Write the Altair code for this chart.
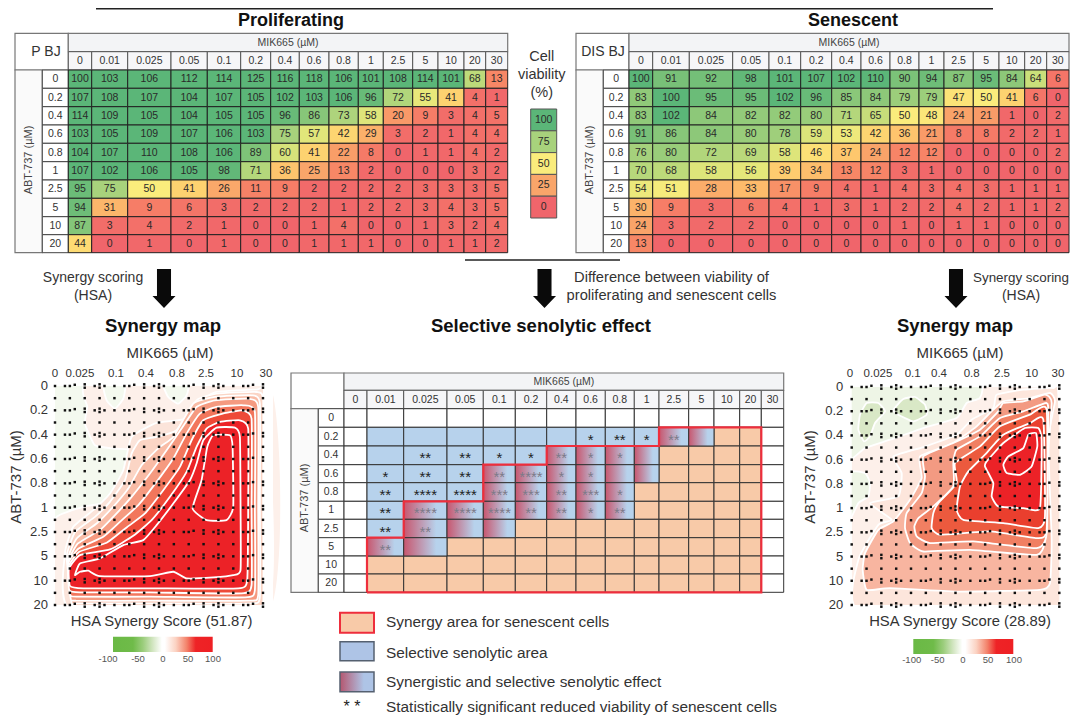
import altair as alt

FONT = "Liberation Sans"
MIK = ["0","0.01","0.025","0.05","0.1","0.2","0.4","0.6","0.8","1","2.5","5","10","20","30"]
ABT = ["0","0.2","0.4","0.6","0.8","1","2.5","5","10","20"]

PROLIF = [
 [100,103,106,112,114,125,116,118,106,101,108,114,101,68,13],
 [107,108,107,104,107,105,102,103,106,96,72,55,41,4,1],
 [114,109,105,104,105,105,96,86,73,58,20,9,3,4,5],
 [103,105,109,107,106,103,75,57,42,29,3,2,1,4,4],
 [104,107,110,108,106,89,60,41,22,8,0,1,1,4,2],
 [107,102,106,105,98,71,36,25,13,2,0,0,0,3,2],
 [95,75,50,41,26,11,9,2,2,2,2,3,3,3,5],
 [94,31,9,6,3,2,2,2,1,2,2,3,4,3,5],
 [87,3,4,2,1,0,0,1,4,0,0,1,3,2,4],
 [44,0,1,0,1,0,0,1,1,1,0,0,1,1,2],
]
SENES = [
 [100,91,92,98,101,107,102,110,90,94,87,95,84,64,6],
 [83,100,95,95,102,96,85,84,79,79,47,50,41,6,0],
 [83,102,84,82,82,80,71,65,50,48,24,21,1,0,2],
 [91,86,84,80,78,59,53,42,36,21,8,8,2,2,1],
 [76,80,72,69,58,46,37,24,12,12,0,0,0,0,2],
 [70,68,58,56,39,34,13,12,3,1,0,0,0,0,0],
 [54,51,28,33,17,9,4,1,4,3,4,3,1,1,1],
 [30,9,3,6,4,1,3,1,2,2,4,2,1,1,2],
 [24,3,2,2,0,0,0,0,1,0,1,1,0,0,0],
 [13,0,0,0,0,0,0,0,0,0,0,0,0,0,0],
]
# w = white, b = selective, o = synergy, g = synergy + selective
CENTER_TYPE = [
 "wwwwwwwwwwwwwww",
 "wbbbbbbbbbggoow",
 "wbbbbbggggoooow",
 "wbbbggggggoooow",
 "wbbbgggggooooow",
 "wbgggggggooooow",
 "wbgggooooooooow",
 "wggooooooooooow",
 "wooooooooooooow",
 "wooooooooooooow",
]
CENTER_STARS = [
 [0]*15,
 [0,0,0,0,0,0,0,1,2,1,2,0,0,0,0],
 [0,0,2,2,1,1,2,1,1,0,0,0,0,0,0],
 [0,1,2,2,2,4,1,1,0,0,0,0,0,0,0],
 [0,2,4,4,3,3,2,3,1,0,0,0,0,0,0],
 [0,2,4,4,4,2,2,1,2,0,0,0,0,0,0],
 [0,2,2,0,0,0,0,0,0,0,0,0,0,0,0],
 [0,2,0,0,0,0,0,0,0,0,0,0,0,0,0],
 [0]*15,
 [0]*15,
]
RED_OUTLINE = [(1,10),(1,7),(2,7),(2,5),(4,5),(4,3),(6,3),(6,2),(10,2),(10,1),(14,1),(14,10),(1,10)]
VIABILITY_LEGEND = [100,75,50,25,0]
HEAT_DOMAIN = [0,25,50,75,100]
HEAT_RANGE = ["#f0656b","#f9a56a","#faec7c","#a8d27c","#5bb678"]

MAP_TOP_LABELS = ["0","0.025","0.1","0.4","0.8","2.5","10","30"]
BAR_LABELS = ["-100","-50","0","50","100"]
LEGEND_TEXT = ["Synergy area for senescent cells","Selective senolytic area",
               "Synergistic and selective senolytic effect",
               "Statistically significant reduced viability of senescent cells"]

# layout
PX = [68.3,91.7,127.7,171,207.3,240.7,270.7,299.3,329,358.3,383.3,412.7,438,464,485.7,507.7]
SX = [629,652.7,689.3,732.7,769,800.7,831.7,861,890,919,944,973.3,999,1024.7,1046.7,1069]
CX = [344,367,403.7,447,483.3,515.3,546.7,576,605.3,634.3,659,688.7,714,739.7,761.3,783.7]
TY = [70,88.3,106.7,125,143.3,161.7,180,198.3,216.7,234.7,252.7]
CY = [408.7,427.3,446,464.7,482.7,501.3,519.3,537.7,556,574,592.3]

# contour outlines: (fill, [(x, y) ...]) in reading units
L_ORIGIN = (165,137,44.6,73.1)
R_ORIGIN = (185,142,44.5,72.6)
LEFT_CONTOURS = [
 ("#fdf0ea",[(268,130),(262,200),(255,250),(285,315),(345,325),(395,330),(385,390),(340,480),(250,500),(170,530),(150,600),(150,810),(810,810),(810,130)]),
 ("#f4f9ef",[(310,130),(320,180),(345,205),(370,175),(375,130)]),
 ("#f4f9ef",[(490,130),(505,170),(535,190),(560,165),(565,130)]),
 ("#fbe4da",[(215,810),(195,640),(220,560),(280,510),(330,460),(370,390),(395,290),(470,248),(560,235),(605,180),(650,155),(770,148),(800,170),(800,810)]),
 ("#fbd5c5",[(220,810),(200,650),(226,575),(285,530),(330,485),(375,420),(395,340),(420,300),(470,290),(530,270),(590,180),(650,160),(770,155),(790,180),(790,500),(790,790),(750,805),(450,805),(235,805)]),
 ("#f9bca6",[(215,790),(203,660),(230,595),(290,550),(335,505),(385,445),(425,375),(480,320),(520,290),(580,190),(645,170),(755,165),(780,190),(780,500),(780,772),(748,790),(450,790),(230,790)]),
 ("#f59a80",[(212,775),(205,665),(234,610),(300,570),(345,525),(395,470),(450,400),(500,330),(545,265),(590,200),(645,180),(745,175),(775,200),(775,500),(775,765),(745,782),(450,782),(228,782)]),
 ("#f2765c",[(210,762),(205,670),(236,625),(310,590),(360,545),(415,495),(470,425),(520,355),(560,280),(600,220),(650,200),(730,195),(765,215),(765,500),(765,750),(735,772),(450,770),(230,770)]),
 ("#ee4a38",[(208,750),(205,680),(238,635),(320,608),(380,562),(435,520),(490,450),(540,380),(575,300),(610,240),(660,222),(725,210),(755,235),(755,500),(755,735),(725,760),(450,757),(240,757)]),
 ("#ec2227",[(210,738),(207,685),(240,645),(330,628),(400,587),(455,540),(510,470),(560,395),(590,320),(620,265),(660,245),(720,240),(745,265),(745,500),(742,720),(715,745),(450,745),(250,745)]),
 ("#ec2227",[(225,705),(240,670),(300,655),(370,615),(430,600),(470,555),(520,490),(570,420),(590,370),(610,300),(650,262),(705,262),(720,290),(722,500),(722,690),(700,705),(640,712),(560,715),(520,695),(450,708),(300,708),(265,692),(240,695)]),
 ("#ec2227",[(640,285),(690,285),(698,320),(700,500),(680,540),(620,540),(578,505),(605,420),(622,320)]),
]
RIGHT_CONTOURS = [
 ("#eef5e6",[(170,130),(560,130),(570,175),(530,190),(500,235),(400,265),(300,300),(225,325),(170,360)]),
 ("#eef5e6",[(170,400),(225,400),(240,430),(235,470),(205,490),(170,555)]),
 ("#d9e8c6",[(210,225),(230,190),(265,190),(285,215),(255,250),(240,290),(222,305),(205,270)]),
 ("#d9e8c6",[(310,210),(340,178),(375,172),(405,195),(410,225),(370,245),(325,225)]),
 ("#fde6dc",[(240,490),(325,470),(335,400),(310,350),(400,322),(500,285),(545,240),(610,205),(620,165),(700,150),(790,145),(805,165),(815,810),(208,810),(205,660),(265,555),(305,540)]),
 ("#f8b5a0",[(230,750),(218,690),(225,640),(265,570),(310,545),(360,480),(395,415),(390,350),(490,310),(560,260),(610,210),(640,185),(720,175),(780,160),(795,185),(775,300),(785,600),(780,730),(750,750),(500,755),(300,745)]),
 ("#f39a82",[(400,635),(360,610),(345,565),(350,520),(395,460),(405,410),(400,350),(490,310),(570,270),(625,215),(640,190),(700,185),(765,165),(785,190),(770,400),(765,600),(740,645),(540,630)]),
 ("#f17f62",[(420,610),(380,590),(373,560),(385,535),(430,500),(490,440),(490,370),(500,330),(570,290),(630,235),(700,215),(770,190),(775,230),(770,580),(740,625),(550,605)]),
 ("#ec5a3e",[(450,585),(425,565),(430,520),(445,490),(500,430),(495,370),(570,320),(630,260),(720,225),(770,210),(770,570),(740,595),(600,575)]),
 ("#ea3f2e",[(520,540),(500,510),(510,440),(535,395),(585,345),(640,285),(720,250),(760,240),(765,530),(745,565),(640,550)]),
 ("#ec2227",[(625,500),(605,470),(610,430),(585,380),(590,365),(640,310),(705,265),(745,265),(755,300),(750,505),(700,505)]),
 ("#ec2227",[(650,400),(640,375),(655,350),(700,325),(715,285),(738,280),(742,320),(725,380),(690,405)]),
]
FULL_ROW_DOTS = [(0,0),(.67,0),(1,0),(1.33,-.05),(2,-.07),(2,.07),(2.67,0),(3,-.07),(3,.07),(3.33,0)]
DOT_PERIOD_COLS = [0,4,8,12]

ONE = alt.Data(values=[{"a":1}])
layers = []

def P(v):
    return v - 8

def scale_from(edges):
    return alt.Scale(domain=list(range(len(edges))), range=[P(e) for e in edges], nice=False, zero=False)

def txt(s, x, y, size=14, color="#333333", bold=False, align="center", angle=None, dy=0):
    kw = dict(font=FONT, fontSize=size, color=color, align=align, baseline="middle", dy=dy)
    if bold: kw["fontWeight"] = "bold"
    if angle is not None: kw["angle"] = angle
    layers.append(alt.Chart(ONE).mark_text(**kw).encode(x=alt.value(P(x)), y=alt.value(P(y)), text=alt.value(s)))

def box(x1, y1, x2, y2, fill="white", stroke="#555555", sw=1.0):
    layers.append(alt.Chart(ONE).mark_rect(fill=fill, stroke=stroke, strokeWidth=sw).encode(
        x=alt.value(P(x1)), x2=alt.value(P(x2)), y=alt.value(P(y1)), y2=alt.value(P(y2))))

def mask(x1, y1, x2, y2):
    layers.append(alt.Chart(ONE).mark_rect(fill="white").encode(
        x=alt.value(P(x1)), x2=alt.value(P(x2)), y=alt.value(P(y1)), y2=alt.value(P(y2))))

def hline(x1, x2, y, sw=1.5, color="#222222"):
    layers.append(alt.Chart(ONE).mark_rule(color=color, strokeWidth=sw).encode(
        x=alt.value(P(x1)), x2=alt.value(P(x2)), y=alt.value(P(y))))

def shell(xe, ye, outer, rowdiv, top, mid, title_y, corner=None, corner_x=None, rot_y=None, rot_x=None):
    bottom = ye[-1]; right = xe[-1]; left0 = xe[0]; y0 = ye[0]
    box(outer, top, left0, y0, "#ffffff", "#777777", 1.2)
    box(left0, top, right, mid, "#f3f4f6", "#777777", 1.2)
    box(outer, y0, rowdiv, bottom, "#fafafa", "#777777", 1.2)
    sx, sy = scale_from(xe), scale_from(ye)
    cols = [{"c":i,"c2":i+1,"m":i+.5,"t":t} for i,t in enumerate(MIK)]
    layers.append(alt.Chart(alt.Data(values=cols)).mark_rect(fill="#f6f6f8", stroke="#555555", strokeWidth=1).encode(
        x=alt.X("c:Q", scale=sx, axis=None), x2="c2:Q", y=alt.value(P(mid)), y2=alt.value(P(y0))))
    layers.append(alt.Chart(alt.Data(values=cols)).mark_text(font=FONT, fontSize=10.5, color="#333333", baseline="middle").encode(
        x=alt.X("m:Q", scale=sx, axis=None), y=alt.value(P((mid+y0)/2)), text="t:N"))
    rows = [{"r":i,"r2":i+1,"m":i+.5,"t":t} for i,t in enumerate(ABT)]
    layers.append(alt.Chart(alt.Data(values=rows)).mark_rect(fill="white", stroke="#444444", strokeWidth=1).encode(
        y=alt.Y("r:Q", scale=sy, axis=None), y2="r2:Q", x=alt.value(P(rowdiv)), x2=alt.value(P(left0))))
    layers.append(alt.Chart(alt.Data(values=rows)).mark_text(font=FONT, fontSize=10.5, color="#333333", baseline="middle").encode(
        y=alt.Y("m:Q", scale=sy, axis=None), x=alt.value(P((rowdiv+left0)/2)), text="t:N"))
    txt("MIK665 (µM)", (left0+right)/2, title_y, 10.5, "#444444")
    txt("ABT-737 (µM)", rot_x, rot_y, 11, "#444444", angle=270)
    if corner:
        txt(corner, corner_x, (top+y0)/2, 14, "#333333")

def heat_table(values, xe, ye):
    sx, sy = scale_from(xe), scale_from(ye)
    rows = [{"c":c,"c2":c+1,"r":r,"r2":r+1,"cm":c+.5,"rm":r+.5,"v":v}
            for r,row in enumerate(values) for c,v in enumerate(row)]
    d = alt.Data(values=rows)
    layers.append(alt.Chart(d).mark_rect(stroke="#222222", strokeWidth=1).encode(
        x=alt.X("c:Q", scale=sx, axis=None), x2="c2:Q",
        y=alt.Y("r:Q", scale=sy, axis=None), y2="r2:Q",
        color=alt.Color("v:Q", scale=alt.Scale(domain=HEAT_DOMAIN, range=HEAT_RANGE, clamp=True), legend=None)))
    layers.append(alt.Chart(d).mark_text(font=FONT, fontSize=10.5, color="#2a2a2a", baseline="middle").encode(
        x=alt.X("cm:Q", scale=sx, axis=None), y=alt.Y("rm:Q", scale=sy, axis=None), text="v:Q"))

# ---- top rules and titles
hline(96, 993, 8.8, 1.6)
txt("Proliferating", 291, 20.5, 18, "#111111", True)
txt("Senescent", 853, 20.5, 18, "#111111", True)

# ---- tables
shell(PX, TY, 15, 42.3, 33.3, 51.7, 42.5, "P BJ", 46, 160, 29)
heat_table(PROLIF, PX, TY)
shell(SX, TY, 576, 603.3, 33.3, 51.7, 42.5, "DIS BJ", 603, 160, 590)
heat_table(SENES, SX, TY)

# ---- viability legend
txt("Cell", 541.7, 57, 14.5); txt("viability", 541.7, 75, 14.5); txt("(%)", 541.7, 93, 14.5)
leg_y = [109,130.8,152.6,174.4,196.2,218]
syl = scale_from(leg_y)
leg = [{"r":i,"r2":i+1,"m":i+.5,"v":v} for i,v in enumerate(VIABILITY_LEGEND)]
layers.append(alt.Chart(alt.Data(values=leg)).mark_rect(stroke="#555555", strokeWidth=1).encode(
    y=alt.Y("r:Q", scale=syl, axis=None), y2="r2:Q", x=alt.value(P(530.7)), x2=alt.value(P(556.7)),
    color=alt.Color("v:Q", scale=alt.Scale(domain=HEAT_DOMAIN, range=HEAT_RANGE, clamp=True), legend=None)))
layers.append(alt.Chart(alt.Data(values=leg)).mark_text(font=FONT, fontSize=10.5, color="#2a2a2a", baseline="middle").encode(
    y=alt.Y("m:Q", scale=syl, axis=None), x=alt.value(P(543.7)), text="v:Q"))

# ---- arrows + captions
ARROW = "M-.36,-1L.36,-1L.36,.385L.59,.385L0,1L-.59,.385L-.36,.385Z"
for ax in (164, 544.5, 956):
    layers.append(alt.Chart(ONE).mark_point(shape=ARROW, filled=True, fill="#0a0a0a", stroke=None, size=1521, opacity=1).encode(
        x=alt.value(P(ax)), y=alt.value(P(288.5))))
hline(465, 620, 260, 1.5)
txt("Synergy scoring", 93, 277.7, 14); txt("(HSA)", 93, 296, 14)
txt("Synergy scoring", 1021, 277.7, 13.4); txt("(HSA)", 1021, 296, 14)
txt("Difference between viability of", 671.5, 277.7, 14.7)
txt("proliferating and senescent cells", 671.5, 295.5, 14.7)
txt("Synergy map", 163, 325.7, 18.5, "#111111", True)
txt("Synergy map", 955, 325.7, 18.5, "#111111", True)
txt("Selective senolytic effect", 541, 325.7, 18.5, "#111111", True)

# ---- synergy maps
BAR_STOPS = [(0,"#6ab945"),(.2,"#6fbb49"),(.3,"#9bcd7c"),(.4,"#d3e6c2"),(.49,"#ffffff"),(.52,"#ffffff"),(.63,"#fbd2c2"),(.74,"#f3826a"),(.83,"#ee2326"),(1,"#ee2024")]

def synergy_map(contours, origin, base_fill, x0, x1, y0, y1, top_x, ylab_x, ytitle_x, mid, score, score_x, bx0, bx1, by0, by1, blab_y, blab_x):
    xs = alt.Scale(domain=[0,14], range=[P(x0),P(x1)], nice=False, zero=False)
    ys = alt.Scale(domain=[0,9], range=[P(y0),P(y1)], nice=False, zero=False)
    ox, oy, ux, uy = origin
    base = [{"c":0,"c2":14,"r":0,"r2":9}]
    layers.append(alt.Chart(alt.Data(values=base)).mark_rect(fill=base_fill).encode(
        x=alt.X("c:Q", scale=xs, axis=None), x2="c2:Q", y=alt.Y("r:Q", scale=ys, axis=None), y2="r2:Q"))
    for fill, pts in contours:
        rows = [{"x":round((a-ox)/ux,3), "y":round((b-oy)/uy,3), "i":i} for i,(a,b) in enumerate(pts)]
        layers.append(alt.Chart(alt.Data(values=rows)).mark_line(
            interpolate="cardinal-closed", tension=0.55, fill=fill, stroke="#ffffff", strokeWidth=1.8).encode(
            x=alt.X("x:Q", scale=xs, axis=None), y=alt.Y("y:Q", scale=ys, axis=None), order="i:Q"))
    mask(x0-25, y0-25, x0, y1+25); mask(x1, y0-25, x1+10, y1+25)
    mask(x0-25, y0-25, x1+10, y0); mask(x0-25, y1, x1+10, y1+25)
    dots = []
    for r in range(10):
        for base_col in DOT_PERIOD_COLS:
            for dc, dr in FULL_ROW_DOTS:
                if base_col + dc <= 14:
                    dots.append({"c":base_col+dc,"r":r+dr})
    for r in range(9):
        for c in range(15):
            dots.append({"c":c,"r":r+.5})
    layers.append(alt.Chart(alt.Data(values=dots)).mark_square(size=6, color="#111111", opacity=1).encode(
        x=alt.X("c:Q", scale=xs, axis=None), y=alt.Y("r:Q", scale=ys, axis=None)))
    sl = scale_from(top_x)
    tl = [{"i":i,"t":t} for i,t in enumerate(MAP_TOP_LABELS)]
    layers.append(alt.Chart(alt.Data(values=tl)).mark_text(font=FONT, fontSize=11.5, color="#333333", baseline="middle").encode(
        x=alt.X("i:Q", scale=sl, axis=None), y=alt.value(P(374)), text="t:N"))
    yl = [{"r":i,"t":t} for i,t in enumerate(ABT)]
    layers.append(alt.Chart(alt.Data(values=yl)).mark_text(font=FONT, fontSize=13, color="#333333", baseline="middle", align="right").encode(
        y=alt.Y("r:Q", scale=ys, axis=None), x=alt.value(P(ylab_x)), text="t:N"))
    txt("MIK665 (µM)", mid, 353, 15)
    txt("ABT-737 (µM)", ytitle_x, 477, 15, angle=270)
    txt(score, score_x, 622, 14.8)
    layers.append(alt.Chart(ONE).mark_rect(fill=alt.Gradient(gradient="linear", x1=0, x2=1, y1=0, y2=0,
        stops=[alt.GradientStop(offset=o, color=c) for o,c in BAR_STOPS])).encode(
        x=alt.value(P(bx0)), x2=alt.value(P(bx1)), y=alt.value(P(by0)), y2=alt.value(P(by1))))
    sb = scale_from(blab_x)
    bl = [{"i":i,"t":t} for i,t in enumerate(BAR_LABELS)]
    layers.append(alt.Chart(alt.Data(values=bl)).mark_text(font=FONT, fontSize=9.5, color="#555555", baseline="middle").encode(
        x=alt.X("i:Q", scale=sb, axis=None), y=alt.value(P(blab_y)), text="t:N"))

synergy_map(LEFT_CONTOURS, L_ORIGIN, "#f4f9ef", 55, 263, 386, 605, [55,80,116,146,177,206,237,266], 48, 16, 170,
            "HSA Synergy Score (51.87)", 161.5, 113, 212.7, 636.7, 652, 659, [108,138,163,188,213])
synergy_map(RIGHT_CONTOURS, R_ORIGIN, "#fdf0ea", 851.7, 1059.3, 387, 605, [850,878,912.7,939,971.7,1002,1031.7,1058], 843.3, 810, 960,
            "HSA Synergy Score (28.89)", 960, 913.3, 1013.3, 639, 654, 660, [911.7,937.7,963,988,1014])

# ---- centre table
shell(CX, CY, 291, 318.3, 373, 390.3, 381.5, None, None, 498, 305)
scx, scy = scale_from(CX), scale_from(CY)
BLUE, ORANGE = "#b7d2ec", "#f8caa8"
GRAD = alt.Gradient(gradient="linear", x1=0, x2=1, y1=0, y2=0, stops=[
    alt.GradientStop(offset=0, color="#c8566e"), alt.GradientStop(offset=.75, color=BLUE), alt.GradientStop(offset=1, color=BLUE)])
cells = [{"c":c,"c2":c+1,"r":r,"r2":r+1,"k":k} for r,row in enumerate(CENTER_TYPE) for c,k in enumerate(row)]
layers.append(alt.Chart(alt.Data(values=[d for d in cells if d["k"]!="g"])).mark_rect(stroke="#333333", strokeWidth=1).encode(
    x=alt.X("c:Q", scale=scx, axis=None), x2="c2:Q", y=alt.Y("r:Q", scale=scy, axis=None), y2="r2:Q",
    color=alt.Color("k:N", scale=alt.Scale(domain=["w","b","o"], range=["#ffffff",BLUE,ORANGE]), legend=None)))
layers.append(alt.Chart(alt.Data(values=[d for d in cells if d["k"]=="g"])).mark_rect(fill=GRAD, stroke="#333333", strokeWidth=1).encode(
    x=alt.X("c:Q", scale=scx, axis=None), x2="c2:Q", y=alt.Y("r:Q", scale=scy, axis=None), y2="r2:Q"))
stars = [{"cm":c+.5,"rm":r+.5,"s":"*"*n,"k":CENTER_TYPE[r][c]} for r,row in enumerate(CENTER_STARS) for c,n in enumerate(row) if n]
for kind, col in (("b","#222222"),("g","#7d7a88")):
    layers.append(alt.Chart(alt.Data(values=[s for s in stars if s["k"]==kind])).mark_text(
        font=FONT, fontSize=15, color=col, baseline="middle", dy=3).encode(
        x=alt.X("cm:Q", scale=scx, axis=None), y=alt.Y("rm:Q", scale=scy, axis=None), text="s:N"))
red = [{"x":a,"y":b,"i":i} for i,(a,b) in enumerate(RED_OUTLINE)]
layers.append(alt.Chart(alt.Data(values=red)).mark_line(color="#ee2e3c", strokeWidth=2.2).encode(
    x=alt.X("x:Q", scale=scx, axis=None), y=alt.Y("y:Q", scale=scy, axis=None), order="i:Q"))

# ---- bottom legend
box(340, 612.7, 374, 632.7, ORANGE, "#ee2e3c", 2)
box(340, 641.7, 374, 660.7, "#aec4e6", "#556070", 1.5)
layers.append(alt.Chart(ONE).mark_rect(fill=alt.Gradient(gradient="linear", x1=0, x2=1, y1=0, y2=0, stops=[
    alt.GradientStop(offset=0, color="#b5566f"), alt.GradientStop(offset=.7, color="#aec4e6"), alt.GradientStop(offset=1, color="#aec4e6")]),
    stroke="#556070", strokeWidth=1.5).encode(x=alt.value(P(340)), x2=alt.value(P(374)), y=alt.value(P(672)), y2=alt.value(P(691.7))))
for t, yy in zip(LEGEND_TEXT, (621.7, 652.7, 682, 707)):
    txt(t, 386, yy, 15.4, "#333333", align="left")
txt("* *", 352, 706.5, 16, "#222222")

chart = alt.layer(*layers).resolve_scale(x="independent", y="independent", color="independent").properties(
    width=1062, height=707, padding=0, autosize=alt.AutoSizeParams(type="none")
).configure(font=FONT).configure_view(strokeWidth=0, stroke="transparent")
chart.save("out.html", embed_options={"renderer": "svg", "actions": False})
